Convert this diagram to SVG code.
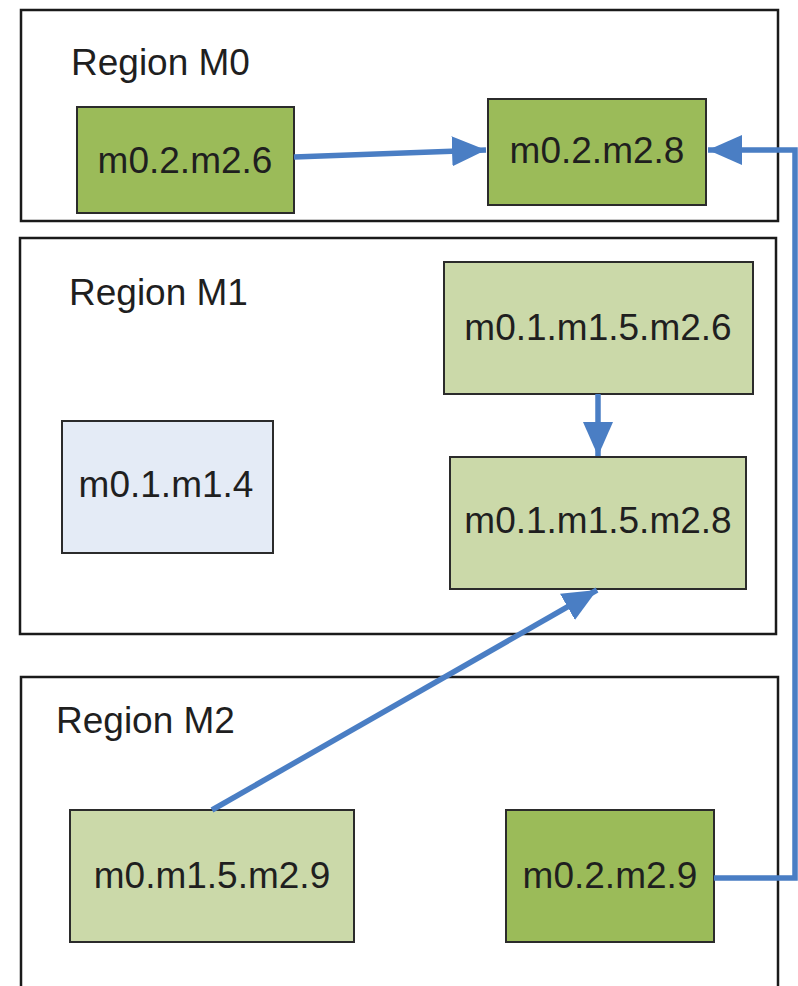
<svg xmlns="http://www.w3.org/2000/svg" width="798" height="986" viewBox="0 0 798 986">
  <defs>
    <style>
      .region { fill: #ffffff; stroke: #1a1a1a; stroke-width: 2.5; }
      .node { stroke: #2b2b2b; stroke-width: 2; }
      .dark { fill: #9bbb59; }
      .light { fill: #cbd9a9; }
      .blue { fill: #e4ebf6; }
      .lbl { font-family: "Liberation Sans", Arial, sans-serif; font-size: 37px; fill: #1f1f1f; }
      .mid { text-anchor: middle; }
      .conn { fill: none; stroke: #4a7ec4; stroke-width: 5.5; }
    </style>
    <marker id="arrow" markerUnits="userSpaceOnUse" markerWidth="36" markerHeight="32" refX="34" refY="16" orient="auto">
      <path d="M0,1 L34,16 L0,31 Z" fill="#4a7ec4"/>
    </marker>
  </defs>

  <rect width="798" height="986" fill="#ffffff"/>

  <!-- regions -->
  <g id="region-m0">
    <rect class="region" x="21" y="10" width="757" height="211"/>
    <text class="lbl" x="71" y="75">Region M0</text>
  </g>
  <g id="region-m1">
    <rect class="region" x="20" y="238" width="756" height="396"/>
    <text class="lbl" x="69" y="305">Region M1</text>
  </g>
  <g id="region-m2">
    <rect class="region" x="21" y="677" width="757" height="330"/>
    <text class="lbl" x="56" y="733">Region M2</text>
  </g>

  <!-- nodes -->
  <g id="n-m0-2-m2-6">
    <rect class="node dark" x="77" y="107" width="217" height="106"/>
    <text class="lbl mid" x="185" y="173">m0.2.m2.6</text>
  </g>
  <g id="n-m0-2-m2-8">
    <rect class="node dark" x="488" y="99" width="218" height="106"/>
    <text class="lbl mid" x="597" y="163">m0.2.m2.8</text>
  </g>
  <g id="n-m0-1-m1-5-m2-6">
    <rect class="node light" x="444" y="262" width="309" height="132"/>
    <text class="lbl mid" x="598" y="340">m0.1.m1.5.m2.6</text>
  </g>
  <g id="n-m0-1-m1-4">
    <rect class="node blue" x="62" y="421" width="211" height="132"/>
    <text class="lbl mid" x="166" y="497">m0.1.m1.4</text>
  </g>
  <g id="n-m0-1-m1-5-m2-8">
    <rect class="node light" x="450" y="457" width="296" height="132"/>
    <text class="lbl mid" x="598" y="533">m0.1.m1.5.m2.8</text>
  </g>
  <g id="n-m0-m1-5-m2-9">
    <rect class="node light" x="70" y="810" width="284" height="132"/>
    <text class="lbl mid" x="212" y="888">m0.m1.5.m2.9</text>
  </g>
  <g id="n-m0-2-m2-9">
    <rect class="node dark" x="506" y="810" width="208" height="132"/>
    <text class="lbl mid" x="610" y="888">m0.2.m2.9</text>
  </g>

  <!-- connectors -->
  <g id="connectors">
    <path class="conn" d="M294,157 L486,150" marker-end="url(#arrow)"/>
    <path class="conn" d="M598,394 L598,456" marker-end="url(#arrow)"/>
    <path class="conn" d="M212,810 L597,590" marker-end="url(#arrow)"/>
    <path class="conn" d="M714,878 H795 V150 H708" marker-end="url(#arrow)"/>
  </g>
</svg>
